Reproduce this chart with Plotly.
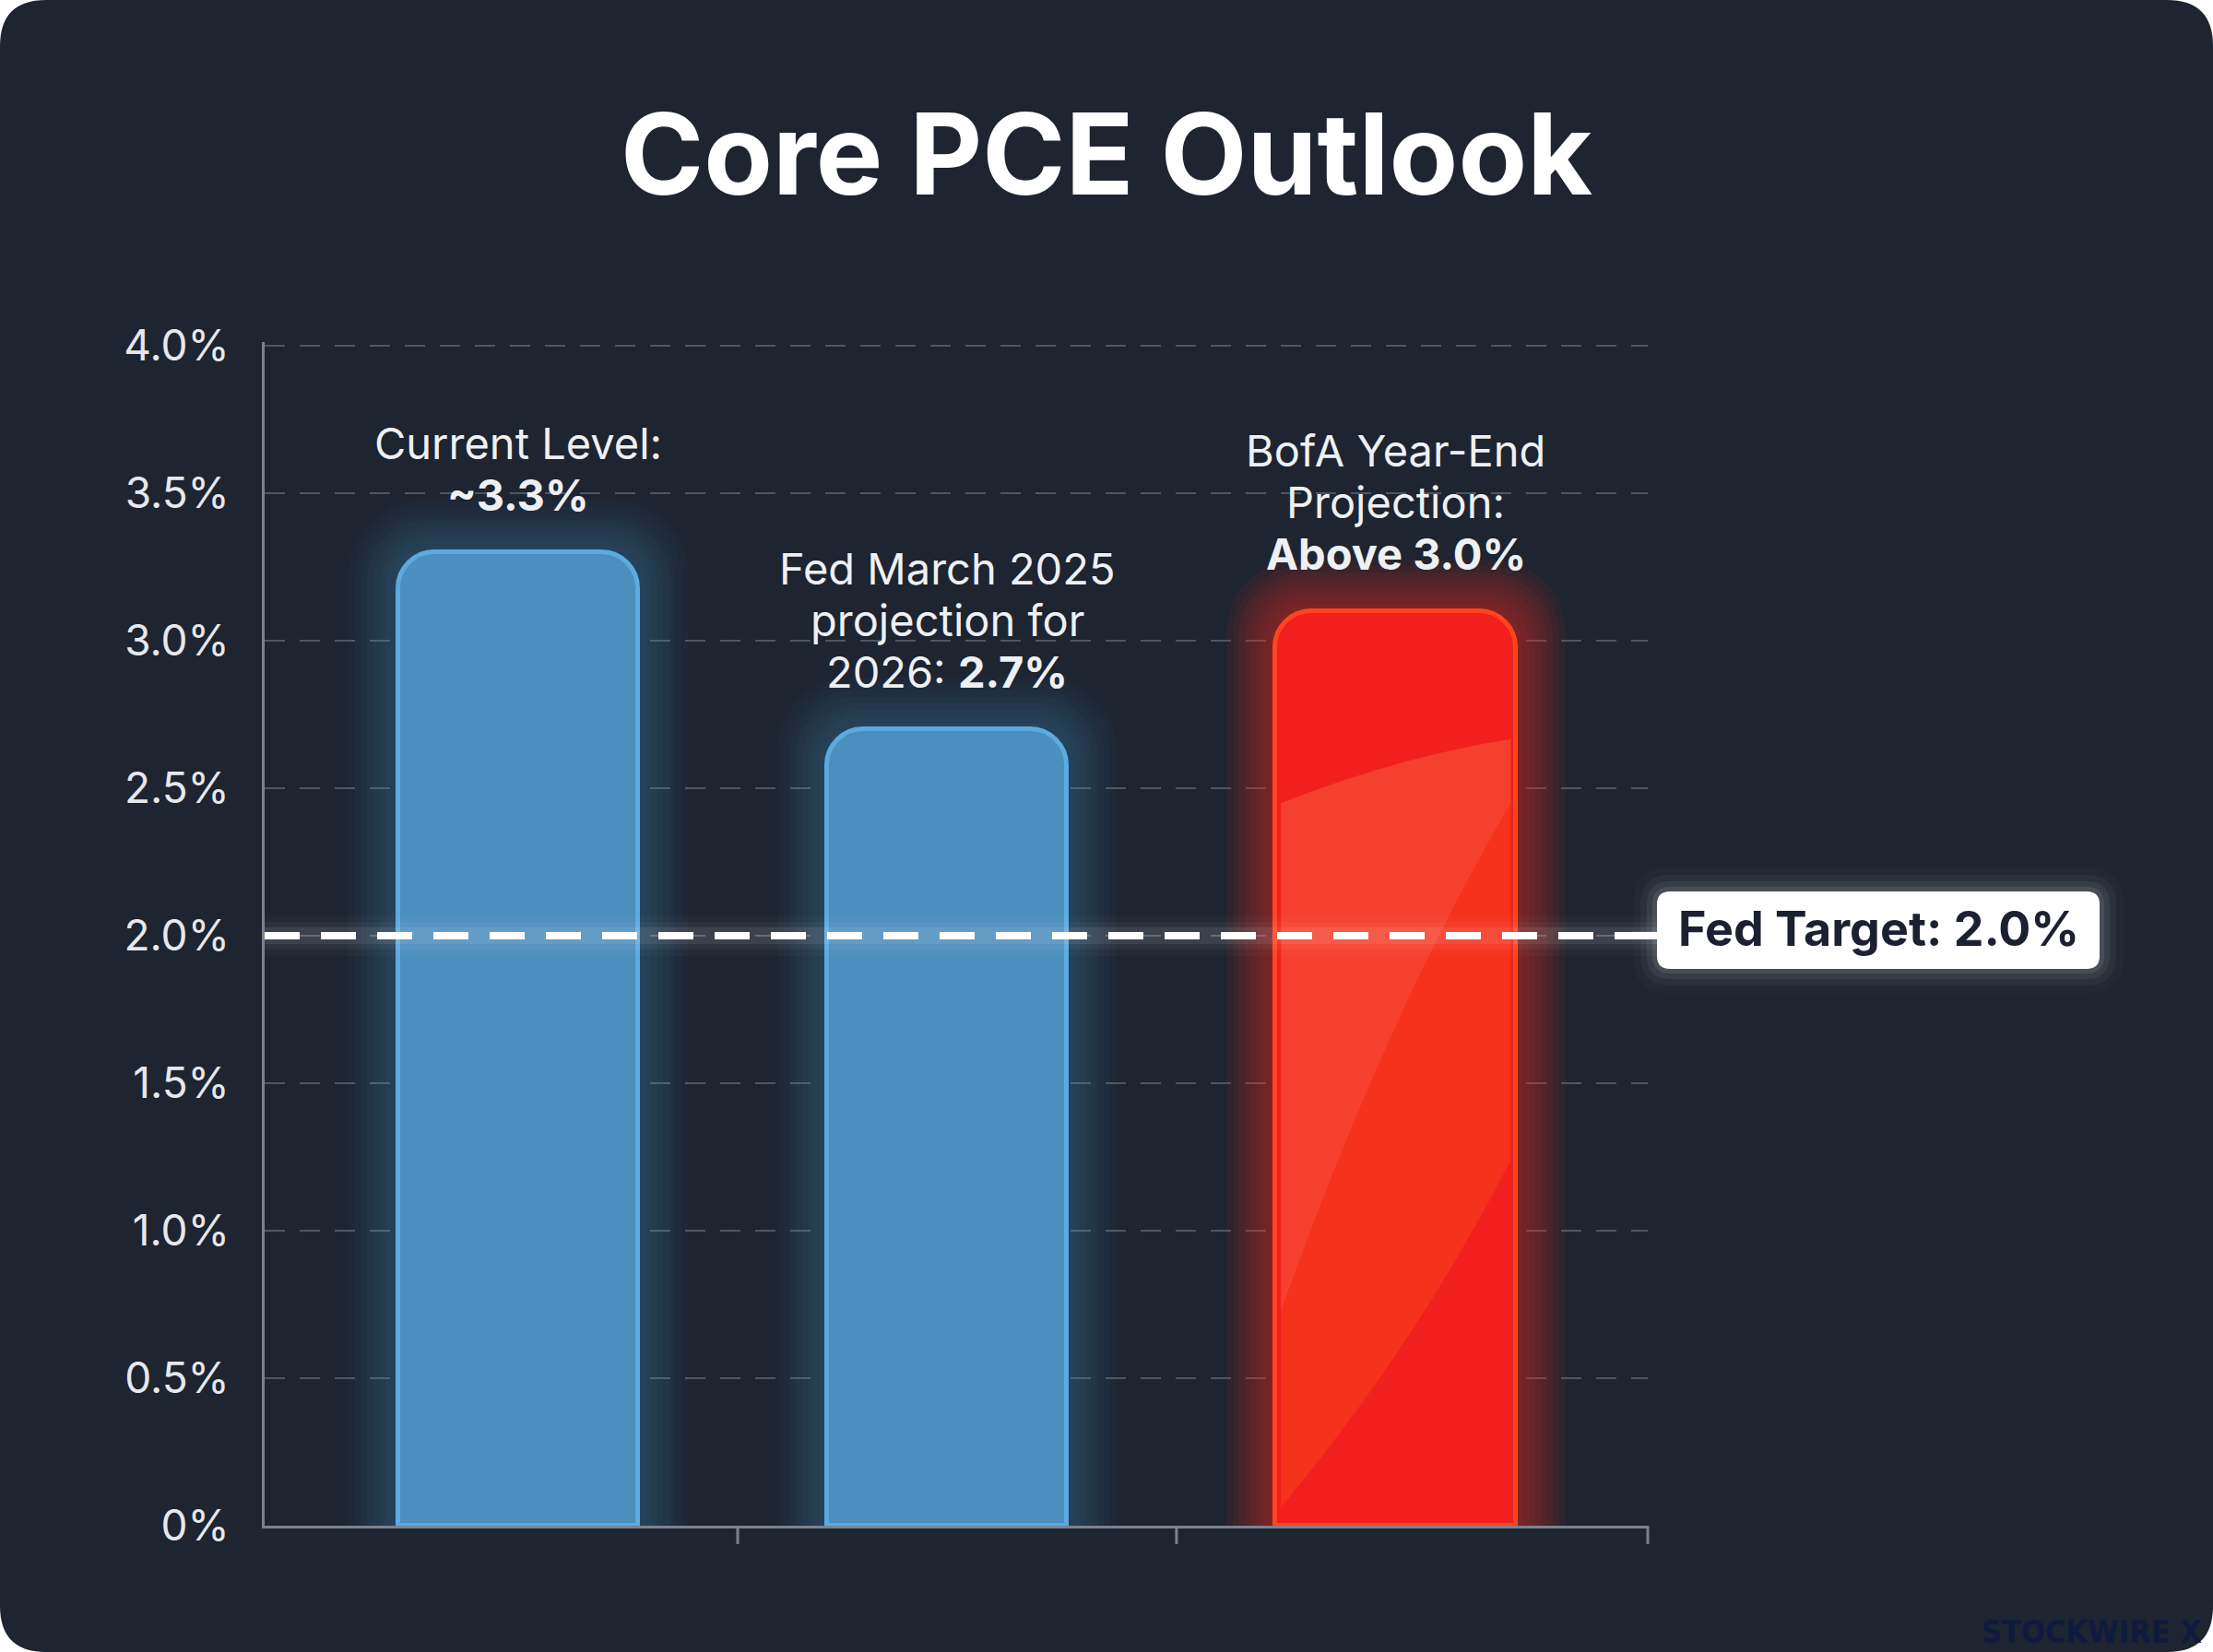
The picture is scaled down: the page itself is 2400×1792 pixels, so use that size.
import plotly.graph_objects as go

# ---------------- data ----------------
categories = ["Current Level", "Fed March 2025 projection for 2026", "BofA Year-End Projection"]
values = [3.3, 2.7, 3.1]
bar_label_lines = [
    ["Current Level:", "<b>~3.3%</b>"],
    ["Fed March 2025", "projection for", "2026: <b>2.7%</b>"],
    ["BofA Year-End", "Projection:", "<b>Above 3.0%</b>"],
]
y_tickvals = [0, 0.5, 1.0, 1.5, 2.0, 2.5, 3.0, 3.5, 4.0]
y_ticktext = ["0%", "0.5%", "1.0%", "1.5%", "2.0%", "2.5%", "3.0%", "3.5%", "4.0%"]
fed_target = 2.0
fed_target_label = "Fed Target: 2.0%"
title_text = "Core PCE Outlook"
watermark = "STOCKWIRE X"

# ---------------- style ----------------
W, H = 2400, 1792
ML, MR, MT, MB = 287, 613, 371, 137
PW, PH = W - ML - MR, H - MT - MB
x_range = [-0.578, 2.574]
y_range = [0, 4.012]
BG = "#1e2430"
bar_width = 0.548
bar_nudge = [0.0, -0.023, 0.0]          # small horizontal nudge (category units)
PX_PER_UNIT = PW / (x_range[1] - x_range[0])
fill_colors = ["#4b8db6", "#4b8db6", "#ea1d20"]
line_colors = ["#63aee0", "#63aee0", "#ff5c26"]
glow_rgb = ["90,165,220", "90,165,220", "255,45,30"]
glow_alpha = [0.035, 0.035, 0.065]
FONT = "Inter, 'Noto Sans', sans-serif"
CR = 40
N_GLOW = 8


def px2paper_x(px):
    return (px - ML) / PW


def px2paper_y(py):
    return (H - MB - py) / PH


def val2py(v):
    return H - MB - (v - y_range[0]) / (y_range[1] - y_range[0]) * PH


def rrect_path(x0, y0, x1, y1, r):
    """rounded rect given in pixel coords (y down), returned in paper coords"""
    def P(x, y):
        return f"{px2paper_x(x):.5f},{px2paper_y(y):.5f}"
    return (
        f"M {P(x0 + r, y0)} L {P(x1 - r, y0)} Q {P(x1, y0)} {P(x1, y0 + r)} "
        f"L {P(x1, y1 - r)} Q {P(x1, y1)} {P(x1 - r, y1)} "
        f"L {P(x0 + r, y1)} Q {P(x0, y1)} {P(x0, y1 - r)} "
        f"L {P(x0, y0 + r)} Q {P(x0, y0)} {P(x0 + r, y0)} Z"
    )


fig = go.Figure()

# each bar layer lives on its own (hidden, overlaid) x axis so every layer gets rounded tops
axis_ids = []
for idx, k in enumerate(range(N_GLOW, 0, -1)):
    ax_id = f"x{idx + 2}"
    axis_ids.append(ax_id)
    wk = bar_width + 0.028 * k
    fig.add_trace(go.Bar(
        x=categories,
        y=[v + 0.022 * k for v in values],
        width=wk,
        offset=[-wk / 2 + n for n in bar_nudge],
        xaxis=ax_id, yaxis="y",
        marker=dict(
            color=[f"rgba({g},{a})" for g, a in zip(glow_rgb, glow_alpha)],
            line=dict(width=0),
            cornerradius=CR + 5 * k,
        ),
        hoverinfo="skip",
        showlegend=False,
    ))

# main bars on the primary axis
fig.add_trace(go.Bar(
    x=categories,
    y=values,
    width=bar_width,
    offset=[-bar_width / 2 + n for n in bar_nudge],
    xaxis="x", yaxis="y",
    marker=dict(
        color=fill_colors,
        line=dict(color=line_colors, width=5),
        cornerradius=CR,
    ),
    hoverinfo="skip",
    showlegend=False,
))

shapes = []

# full card background with rounded corners
shapes.append(dict(
    type="path", xref="paper", yref="paper", layer="below",
    path=rrect_path(0, 0, W, H, 50),
    fillcolor=BG, line=dict(width=0),
))

# light streaks on red bar (derived from bar geometry)
i3 = 2
v3 = values[i3]
c3 = i3 + bar_nudge[i3]
xl, xr = c3 - bar_width / 2 + 0.012, c3 + bar_width / 2 - 0.012
curve = f"M {xl},{v3*0.234} Q {c3 - 0.02},{v3*0.56} {xr},{v3*0.79} "
shapes.append(dict(
    type="path", xref="x", yref="y", layer="above",
    path=curve + f"L {xr},{v3*0.86} Q {c3},{v3*0.84} {xl},{v3*0.79} Z",
    fillcolor="rgba(255,125,75,0.36)", line=dict(width=0),
))
shapes.append(dict(
    type="path", xref="x", yref="y", layer="above",
    path=curve + f"L {xr},{v3*0.40} Q {c3 + 0.05},{v3*0.20} {xl},{v3*0.02} Z",
    fillcolor="rgba(255,90,25,0.32)", line=dict(width=0),
))

# x-axis boundary ticks
for b in [0.5, 1.5]:
    shapes.append(dict(type="line", xref="x", yref="paper", x0=b, x1=b,
                       y0=0, y1=px2paper_y(H - MB + 20),
                       line=dict(color="#7c828d", width=3)))
shapes.append(dict(type="line", xref="paper", yref="paper", x0=1, x1=1,
                   y0=0, y1=px2paper_y(H - MB + 20),
                   line=dict(color="#7c828d", width=3)))

# Fed target line glow + dashes
ty = val2py(fed_target)
box_x0, box_x1 = 1797, 2277
box_y0, box_y1 = ty - 48, ty + 36
for wdt, a in [(44, 0.025), (30, 0.045), (18, 0.08)]:
    shapes.append(dict(type="line", xref="paper", yref="y", x0=0, x1=px2paper_x(box_x0),
                       y0=fed_target, y1=fed_target,
                       line=dict(color=f"rgba(255,255,255,{a})", width=wdt)))
shapes.append(dict(type="line", xref="paper", yref="y", x0=0, x1=px2paper_x(box_x0 - 8),
                   y0=fed_target, y1=fed_target,
                   line=dict(color="#ffffff", width=8, dash="38px,23px")))
shapes.append(dict(type="line", xref="paper", yref="y", x0=px2paper_x(box_x0 - 28), x1=px2paper_x(box_x0),
                   y0=fed_target, y1=fed_target,
                   line=dict(color="#ffffff", width=8)))

# label box glow + box
for g, a in [(26, 0.025), (18, 0.04), (11, 0.06), (5, 0.09)]:
    shapes.append(dict(type="path", xref="paper", yref="paper",
                       path=rrect_path(box_x0 - g, box_y0 - g, box_x1 + g, box_y1 + g, 14 + g),
                       fillcolor=f"rgba(255,255,255,{a})", line=dict(width=0)))
shapes.append(dict(type="path", xref="paper", yref="paper",
                   path=rrect_path(box_x0, box_y0, box_x1, box_y1, 14),
                   fillcolor="#ffffff", line=dict(width=0)))

annotations = []
LINE_GAP = 56
for cat, v, lines, nud in zip(categories, values, bar_label_lines, bar_nudge):
    n = len(lines)
    for j, txt in enumerate(lines):
        annotations.append(dict(
            x=cat, y=v, xref="x", yref="y", text=txt, showarrow=False,
            xanchor="center", yanchor="middle", yshift=62 + LINE_GAP * (n - 1 - j),
            xshift=nud * PX_PER_UNIT,
            font=dict(family=FONT, size=47, color="#eef0f3"),
        ))

annotations.append(dict(
    x=px2paper_x((box_x0 + box_x1) / 2), y=fed_target, xref="paper", yref="y",
    text=f"<b>{fed_target_label}</b>", showarrow=False, xanchor="center", yanchor="middle",
    yshift=7, font=dict(family=FONT, size=52, color="#1b2130"),
))

annotations.append(dict(
    x=px2paper_x(2390), y=px2paper_y(1770), xref="paper", yref="paper",
    text=f"<b>{watermark}</b>", showarrow=False, xanchor="right", yanchor="middle",
    font=dict(family="'Liberation Sans Narrow', 'DejaVu Sans Condensed', sans-serif", size=34, color="#0f1b3d"),
))

layout_axes = {}
for ax_id in axis_ids:
    layout_axes["xaxis" + ax_id[1:]] = dict(
        overlaying="x", range=x_range, type="category", visible=False,
        categoryorder="array", categoryarray=categories, fixedrange=True,
    )

fig.update_layout(
    width=W, height=H, autosize=False,
    margin=dict(l=ML, r=MR, t=MT, b=MB, pad=0),
    paper_bgcolor="#ffffff",
    plot_bgcolor="rgba(0,0,0,0)",
    barmode="overlay",
    bargap=0,
    showlegend=False,
    title=dict(text=f"<b>{title_text}</b>", x=0.5, xanchor="center",
               y=1 - 168 / H, yanchor="middle", yref="container",
               font=dict(family=FONT, size=122, color="#ffffff")),
    xaxis=dict(
        range=x_range, type="category", categoryorder="array", categoryarray=categories,
        showticklabels=False, ticks="",
        showgrid=False, zeroline=False, showline=True, linecolor="#7c828d", linewidth=3,
        fixedrange=True,
    ),
    yaxis=dict(
        range=y_range, tickvals=y_tickvals, ticktext=y_ticktext, ticks="",
        ticklabelstandoff=26,
        tickfont=dict(family=FONT, size=46, color="#e6e8ec"),
        showgrid=True, gridcolor="rgba(112,118,130,0.6)", gridwidth=2, griddash="22px,16px",
        zeroline=False, showline=True, linecolor="#7c828d", linewidth=3,
        fixedrange=True,
    ),
    shapes=shapes,
    annotations=annotations,
    **layout_axes,
)

fig.write_html("out.html")
